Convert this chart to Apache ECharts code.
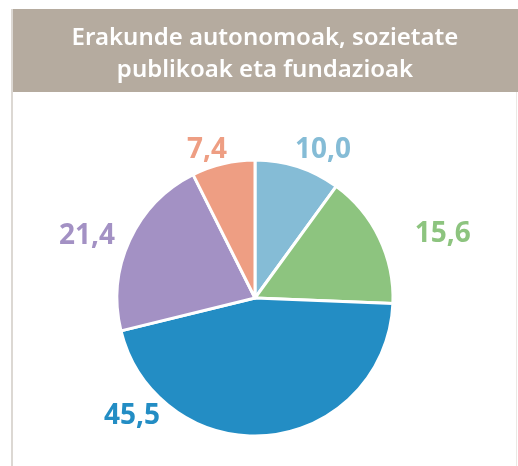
<!DOCTYPE html>
<html>
<head>
<meta charset="utf-8">
<script src="https://cdn.jsdelivr.net/npm/echarts@6/dist/echarts.min.js"></script>
<style>
  html, body { margin: 0; padding: 0; background: #fff; }
  #chart { width: 518px; height: 466px; }
</style>
</head>
<body>
<div id="chart"></div>
<script>
const titleLines = ['Erakunde autonomoak, sozietate', 'publikoak eta fundazioak']
const categories = ['A', 'B', 'C', 'D', 'E']
const values = [10.0, 15.6, 45.5, 21.4, 7.4]
const colors = ['#85bcd6', '#8dc47f', '#238dc4', '#a391c4', '#ee9e83']

// small nudges so labels sit where the original put them
const labelShift = [[-12, -3], [18, 2], [0, 0], [3, 2], [12, 0]]

const chart = echarts.init(document.getElementById('chart'))

const option = {
  animation: false,
  graphic: [
    {
      type: 'rect',
      shape: { x: 12, y: 9, width: 506, height: 83 },
      style: { fill: '#b5ab9f' }
    },
    {
      type: 'rect',
      shape: { x: 11, y: 9, width: 2, height: 457 },
      style: { fill: '#dcd8d3' }
    },
    {
      type: 'rect',
      shape: { x: 516, y: 92, width: 1, height: 374 },
      style: { fill: '#ebe8e4' }
    },
    {
      type: 'text',
      x: 265,
      y: 54,
      style: {
        text: titleLines.join('\n'),
        fill: '#ffffff',
        font: '600 24px "Noto Sans"',
        lineHeight: 32,
        align: 'center',
        verticalAlign: 'middle'
      }
    }
  ],
  series: [
    {
      type: 'pie',
      center: [255, 298],
      radius: 138,
      startAngle: 90,
      clockwise: true,
      itemStyle: { borderColor: '#ffffff', borderWidth: 3 },
      label: {
        show: true,
        position: 'outside',
        fontSize: 28,
        fontWeight: 'bold',
        fontFamily: '"Noto Sans"',
        formatter: p => p.value.toFixed(1).replace('.', ',')
      },
      labelLine: { show: false, length: 14, length2: 0 },
      labelLayout: p => {
        if (p.dataIndex === 2) {
          return { x: 132, y: 416, align: 'center', verticalAlign: 'middle' }
        }
        const s = labelShift[p.dataIndex]
        return { dx: s[0], dy: s[1] }
      },
      data: categories.map((c, i) => ({
        name: c,
        value: values[i],
        itemStyle: { color: colors[i] },
        label: { color: colors[i] }
      }))
    }
  ]
}

chart.setOption(option)
</script>
</body>
</html>
